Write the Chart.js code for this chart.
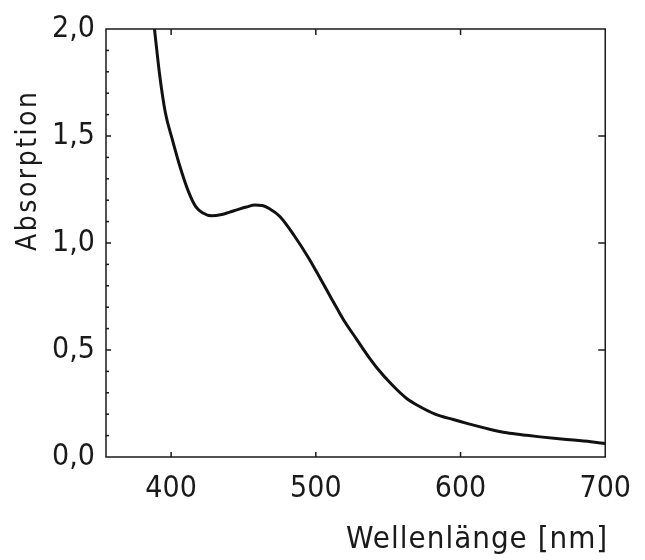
<!DOCTYPE html>
<html>
<head>
<meta charset="utf-8">
<title>Absorption</title>
<script src="https://cdn.jsdelivr.net/npm/chart.js@4.4.1/dist/chart.umd.min.js"></script>
<style>
  body { margin: 0; background: #fff; }
  #wrap { width: 645px; height: 560px; position: relative; }
</style>
</head>
<body>
<div id="wrap"><canvas id="abs-chart"></canvas></div>
<script>
// Absorption spectrum
const wavelengths = [388.5, 392, 396, 401, 406, 412, 417, 422, 428, 435, 440, 446, 452, 458, 463, 468, 475, 485, 495, 503,
  510, 515, 520, 528, 535, 543, 553, 563, 572, 582, 595, 605, 620, 632, 645, 655, 668, 678, 690, 700];
const absorption = [2.0, 1.79, 1.61, 1.48, 1.36, 1.24, 1.17, 1.14, 1.127, 1.133, 1.143, 1.156, 1.168, 1.177, 1.175, 1.16, 1.125, 1.035, 0.93, 0.835,
  0.75, 0.69, 0.632, 0.552, 0.482, 0.41, 0.335, 0.272, 0.235, 0.202, 0.175, 0.156, 0.13, 0.113, 0.102, 0.094, 0.085, 0.079, 0.071, 0.063];

const xTicks = [400, 500, 600, 700];
const yTicks = [0, 0.5, 1.0, 1.5, 2.0];
const xTitle = "Wellenlänge [nm]";
const yTitle = "Absorption";

const FONT = "'DejaVu Sans Condensed', 'DejaVu Sans', sans-serif";
const INK = "#1a1a1a";

document.addEventListener("DOMContentLoaded", function () {
  const canvas = document.getElementById("abs-chart");
  const ctx = canvas.getContext("2d");

  const points = wavelengths.map(function (w, i) {
    return { x: w, y: absorption[i] };
  });

  // frame, inward ticks and axis titles drawn on top of the chart
  const framePlugin = {
    id: "frame",
    afterDatasetsDraw: function (chart) {
      const c = chart.ctx;
      const a = chart.chartArea;
      const x = chart.scales.x;
      const y = chart.scales.y;

      function seg(x1, y1, x2, y2) {
        c.beginPath();
        c.moveTo(x1, y1);
        c.lineTo(x2, y2);
        c.stroke();
      }

      c.save();
      c.strokeStyle = INK;
      c.lineWidth = 1.5;
      c.strokeRect(a.left, a.top, a.right - a.left, a.bottom - a.top);

      xTicks.forEach(function (v) {
        if (v >= 700) return;
        const px = x.getPixelForValue(v);
        seg(px, a.bottom, px, a.bottom - 5);
        seg(px, a.top, px, a.top + 6);
      });

      // minor ticks every 0.1 on the left axis
      for (let i = 1; i < 20; i++) {
        const py = y.getPixelForValue(i / 10);
        const major = i % 5 === 0;
        seg(a.left, py, a.left + (major ? 5 : 3), py);
        if (major) seg(a.right, py, a.right - 7, py);
      }

      // axis titles
      c.fillStyle = INK;
      c.font = "31px " + FONT;
      c.letterSpacing = "1px";
      c.textAlign = "right";
      c.textBaseline = "alphabetic";
      c.fillText(xTitle, a.right + 3, a.bottom + 91);

      c.font = "28px " + FONT;
      c.letterSpacing = "2.5px";
      c.translate(36, a.top + (a.bottom - a.top) * 0.33);
      c.rotate(-Math.PI / 2);
      c.textAlign = "center";
      c.fillText(yTitle, 0, 0);
      c.restore();
    },
  };

  new Chart(ctx, {
    type: "scatter",
    data: {
      datasets: [
        {
          label: yTitle,
          data: points,
          showLine: true,
          borderColor: "#111",
          borderWidth: 3,
          pointRadius: 0,
          cubicInterpolationMode: "monotone",
          fill: false,
        },
      ],
    },
    options: {
      responsive: true,
      maintainAspectRatio: false,
      animation: false,
      layout: {
        padding: { top: 25, right: 32, left: 0, bottom: 0 },
      },
      plugins: {
        legend: { display: false },
        tooltip: { enabled: false },
      },
      scales: {
        x: {
          type: "linear",
          min: 355,
          max: 700,
          afterBuildTicks: function (scale) {
            scale.ticks = xTicks.map(function (v) {
              return { value: v };
            });
          },
          afterFit: function (scale) {
            scale.height = 103;
          },
          grid: { display: false, drawTicks: false },
          border: { display: false },
          ticks: {
            color: INK,
            padding: 14,
            maxRotation: 0,
            font: { family: FONT, size: 30 },
          },
        },
        y: {
          min: 0,
          max: 2,
          afterBuildTicks: function (scale) {
            scale.ticks = yTicks.map(function (v) {
              return { value: v };
            });
          },
          afterFit: function (scale) {
            scale.width = 106;
          },
          grid: { display: false, drawTicks: false },
          border: { display: false },
          ticks: {
            color: INK,
            padding: 11,
            font: { family: FONT, size: 30 },
            callback: function (value) {
              return value.toFixed(1).replace(".", ",");
            },
          },
        },
      },
    },
    plugins: [framePlugin],
  });
});
</script>
</body>
</html>
